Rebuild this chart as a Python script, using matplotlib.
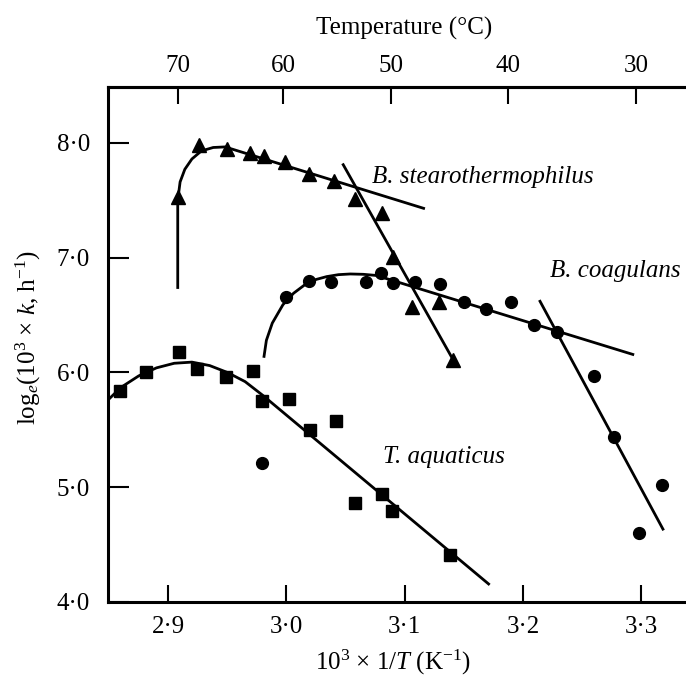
## Growth rate vs reciprocal temperature (Arrhenius-type plot) for three thermophiles
import numpy as np
import matplotlib.pyplot as plt

plt.rcParams['font.family'] = ['Liberation Serif', 'DejaVu Serif']
plt.rcParams['mathtext.fontset'] = 'custom'
plt.rcParams['mathtext.rm'] = 'Liberation Serif'
plt.rcParams['mathtext.it'] = 'Liberation Serif:italic'

# Data points (x = 10^3/T, y = ln(10^3 k))
stear_x = [2.908, 2.926, 2.950, 2.969, 2.981, 2.999, 3.019, 3.040, 3.058, 3.081, 3.090, 3.106, 3.129, 3.141]
stear_y = [7.53, 7.98, 7.95, 7.91, 7.89, 7.83, 7.73, 7.67, 7.51, 7.39, 7.01, 6.57, 6.61, 6.11]

coag_x = [2.979, 3.000, 3.019, 3.038, 3.067, 3.080, 3.090, 3.109, 3.130, 3.150, 3.169, 3.190, 3.209, 3.229,
          3.260, 3.277, 3.298, 3.318]
coag_y = [5.21, 6.66, 6.80, 6.79, 6.79, 6.87, 6.78, 6.79, 6.77, 6.61, 6.55, 6.61, 6.41, 6.35,
          5.97, 5.44, 4.60, 5.02]

aqua_x = [2.859, 2.881, 2.909, 2.924, 2.949, 2.972, 2.979, 3.002, 3.020, 3.042, 3.058, 3.081, 3.089, 3.138]
aqua_y = [5.84, 6.00, 6.18, 6.03, 5.96, 6.01, 5.75, 5.77, 5.50, 5.58, 4.86, 4.94, 4.79, 4.41]

# Hand-fitted curves
stear_fit_x = [2.908, 2.908, 2.910, 2.914, 2.920, 2.928, 2.938, 2.948, 3.116]
stear_fit_y = [6.74, 7.50, 7.66, 7.77, 7.86, 7.93, 7.96, 7.965, 7.43]
stear_steep_x = [3.048, 3.141]
stear_steep_y = [7.81, 6.11]

coag_fit_x = [2.981, 2.983, 2.988, 2.997, 3.006, 3.015, 3.025, 3.034, 3.044, 3.054, 3.065, 3.076, 3.293]
coag_fit_y = [6.14, 6.28, 6.43, 6.59, 6.69, 6.76, 6.81, 6.835, 6.852, 6.858, 6.855, 6.845, 6.157]
coag_steep_x = [3.2145, 3.3185]
coag_steep_y = [6.62, 4.635]

aqua_fit_x = [2.850, 2.860, 2.875, 2.890, 2.905, 2.920, 2.935, 2.950, 2.965, 2.980, 3.171]
aqua_fit_y = [5.77, 5.87, 5.97, 6.04, 6.08, 6.09, 6.06, 6.00, 5.92, 5.80, 4.157]

# Axis ticks
x_ticks = [2.9, 3.0, 3.1, 3.2, 3.3]
x_labels = ['2·9', '3·0', '3·1', '3·2', '3·3']
y_ticks = [4.0, 5.0, 6.0, 7.0, 8.0]
y_labels = ['4·0', '5·0', '6·0', '7·0', '8·0']
temp_pos = [2.9085, 2.9972, 3.0882, 3.1877, 3.2960]
temp_labels = ['70', '60', '50', '40', '30']

W, H = 686, 679
fig = plt.figure(figsize=(W / 100, H / 100), dpi=100)
ax = fig.add_axes([108 / W, 1 - 602 / H, 1 - 108 / W, (602 - 87) / H])

lw = 2.0
ax.plot(stear_fit_x, stear_fit_y, color='black', lw=lw)
ax.plot(stear_steep_x, stear_steep_y, color='black', lw=lw)
ax.plot(coag_fit_x, coag_fit_y, color='black', lw=lw)
ax.plot(coag_steep_x, coag_steep_y, color='black', lw=lw)
ax.plot(aqua_fit_x, aqua_fit_y, color='black', lw=lw)

ax.plot(stear_x, stear_y, '^', color='black', ms=9.5)
ax.plot(coag_x, coag_y, 'o', color='black', ms=8.5)
ax.plot(aqua_x, aqua_y, 's', color='black', ms=9)

ax.set_xlim(2.849, 3.338)
ax.set_ylim(4.0, 8.487)
ax.set_xticks(x_ticks)
ax.set_xticklabels(x_labels, fontsize=18)
ax.set_yticks(y_ticks)
ax.set_yticklabels(y_labels, fontsize=18)
ax.tick_params(axis='x', direction='in', length=12, width=1.5, pad=10)
ax.tick_params(axis='y', direction='in', length=15, width=1.5, pad=13)
for s in ['left', 'bottom', 'top']:
    ax.spines[s].set_linewidth(2.2)
ax.spines['right'].set_visible(False)

ax.set_xlabel(r'10$^3$ × 1/$T$ (K$^{-1}$)', fontsize=18)
ax.xaxis.set_label_coords(0.4926, -0.1165)
ax.xaxis.label.set_verticalalignment('center')
ax.set_ylabel(r'log$_e$(10$^3$ × $k$, h$^{-1}$)', fontsize=18)
ax.yaxis.set_label_coords(-0.138, 0.5126)
ax.yaxis.label.set_verticalalignment('center')

# Temperature scale on top
ax2 = ax.twiny()
ax2.set_xlim(ax.get_xlim())
ax2.set_xticks(temp_pos)
ax2.set_xticklabels(temp_labels, fontsize=18)
ax2.tick_params(axis='x', direction='in', length=12, width=1.5, pad=7)
ax2.spines['right'].set_visible(False)
ax2.spines['top'].set_linewidth(2.2)
ax2.set_xlabel('Temperature (°C)', fontsize=18)
ax2.xaxis.set_label_coords(0.513, 1.1146)
ax2.xaxis.label.set_verticalalignment('center')

ax.text(3.0724, 7.70, 'B. stearothermophilus', fontsize=18, style='italic', va='center')
ax.text(3.2229, 6.88, 'B. coagulans', fontsize=18, style='italic', va='center')
ax.text(3.0817, 5.26, 'T. aquaticus', fontsize=18, style='italic', va='center')

fig.savefig('out.png', dpi=100)
